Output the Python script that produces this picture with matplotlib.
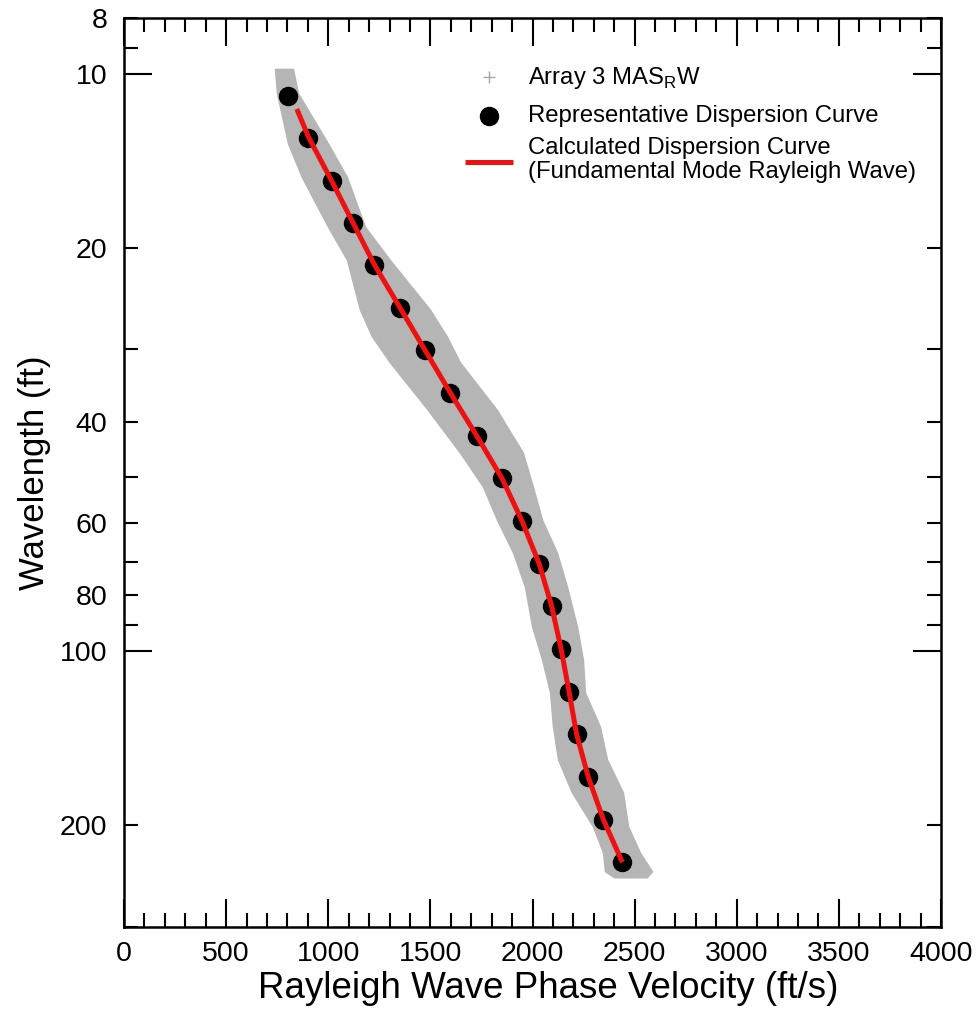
import matplotlib
matplotlib.use("Agg")
import matplotlib.pyplot as plt
from matplotlib.lines import Line2D
from matplotlib.ticker import FixedLocator, FuncFormatter, MultipleLocator

plt.rcParams['font.family'] = ['Liberation Sans', 'DejaVu Sans']
plt.rcParams['mathtext.fontset'] = 'custom'
plt.rcParams['mathtext.rm'] = 'Liberation Sans'

# Envelope of the Array 3 MASRW picks (wavelength in ft, velocity in ft/s)
band_wavelength = [9.8, 10.8, 13.2, 15.1, 18.4, 21.0, 25.6, 28.5, 31.6, 38.2,
                   45.3, 51.9, 59.2, 67.5, 77.3, 90.6, 103.4, 117.9, 135.0,
                   154.0, 175.6, 201.1, 223.1, 240.6, 246.4]
band_left = [739, 749, 803, 871, 999, 1092, 1155, 1214, 1302, 1488,
             1645, 1758, 1826, 1905, 1963, 1998, 2047, 2086, 2100,
             2125, 2193, 2296, 2345, 2355, 2400]
band_right = [827, 852, 999, 1092, 1180, 1302, 1498, 1581, 1645, 1826,
              1953, 2002, 2047, 2120, 2169, 2218, 2247, 2257, 2330,
              2365, 2443, 2468, 2526, 2585, 2560]

# Representative dispersion curve
dot_wavelength = [10.9, 12.9, 15.3, 18.1, 21.4, 25.4, 30.1, 35.7, 42.4, 50.2,
                  59.5, 70.6, 83.6, 99.1, 117.5, 139.3, 165.1, 195.7, 232.0]
dot_velocity = [803, 901, 1016, 1121, 1224, 1351, 1474, 1596, 1728, 1851,
                1949, 2033, 2094, 2140, 2179, 2216, 2273, 2347, 2440]

# Calculated fundamental-mode dispersion curve
curve_wavelength = [11.5, 12.9, 15.3, 18.1, 21.4, 25.4, 30.1, 35.7, 42.4, 50.2,
                    59.5, 70.6, 83.6, 99.1, 117.5, 139.3, 165.1, 195.7, 232.0]
curve_velocity = [846, 905, 1016, 1121, 1226, 1351, 1474, 1598, 1728, 1851,
                  1949, 2033, 2094, 2140, 2179, 2216, 2273, 2347, 2440]

y_major = [10, 100]
y_minor = [8, 9, 20, 30, 40, 50, 60, 70, 80, 90, 200, 300]
y_labelled = [8, 10, 20, 40, 60, 80, 100, 200]

legend_labels = [r'Array 3 MAS$_\mathregular{R}$W',
                 'Representative Dispersion Curve',
                 'Calculated Dispersion Curve\n(Fundamental Mode Rayleigh Wave)']

W, H = 978, 1015
fig = plt.figure(figsize=(W / 100, H / 100), dpi=100)
ax = fig.add_axes([124 / W, 1 - 926.7 / H, 817 / W, (926.7 - 18) / H])

ax.fill_betweenx(band_wavelength, band_left, band_right, color='#b5b5b5',
                 edgecolor='#b5b5b5', linewidth=1.0, zorder=1)
ax.plot(curve_velocity, curve_wavelength, color='#ee1111', lw=3.6, zorder=3,
        solid_capstyle='butt')
ax.plot(dot_velocity, dot_wavelength, 'o', color='black', ms=13, zorder=2)

ax.set_yscale('log')
ax.set_ylim(300, 8)
ax.set_xlim(0, 4000)

ax.xaxis.set_major_locator(MultipleLocator(500))
ax.xaxis.set_minor_locator(MultipleLocator(100))
ax.yaxis.set_major_locator(FixedLocator(y_major))
ax.yaxis.set_minor_locator(FixedLocator(y_minor))
lab = lambda v, p: f"{v:g}" if any(abs(v - t) < 1e-6 for t in y_labelled) else ""
ax.yaxis.set_major_formatter(FuncFormatter(lab))
ax.yaxis.set_minor_formatter(FuncFormatter(lab))

ax.tick_params(which='both', direction='in', top=True, right=True, width=1.5,
               labelsize=20.5, colors='black')
ax.tick_params(which='major', length=20)
ax.tick_params(which='minor', length=10)
ax.tick_params(axis='x', which='both', pad=10)
ax.tick_params(axis='y', which='both', pad=12)
for s in ax.spines.values():
    s.set_linewidth(1.8)

ax.set_xlabel('Rayleigh Wave Phase Velocity (ft/s)', fontsize=26.5, labelpad=3)
ax.xaxis.label.set_x(0.519)
ax.set_ylabel('Wavelength (ft)', fontsize=25, labelpad=6)

# Key in the upper right of the plot area
def fx(px):
    return px / W

def fy(py):
    return 1 - py / H

key_font = 17.2
fig.add_artist(Line2D([fx(489)], [fy(77)], ls='none', marker='+',
                      color='#a8a8a8', ms=9, mew=1.0))
fig.text(fx(528), fy(78), legend_labels[0], fontsize=key_font, va='center')
fig.add_artist(Line2D([fx(489)], [fy(116)], ls='none', marker='o',
                      color='black', ms=13))
fig.text(fx(528), fy(116), legend_labels[1], fontsize=key_font, va='center')
fig.add_artist(Line2D([fx(465), fx(513)], [fy(162), fy(162)],
                      color='#ee1111', lw=3.6, solid_capstyle='butt'))
fig.text(fx(528), fy(160), legend_labels[2], fontsize=key_font, va='center',
         linespacing=1.12)

fig.savefig('out.png', dpi=100, facecolor='white')
